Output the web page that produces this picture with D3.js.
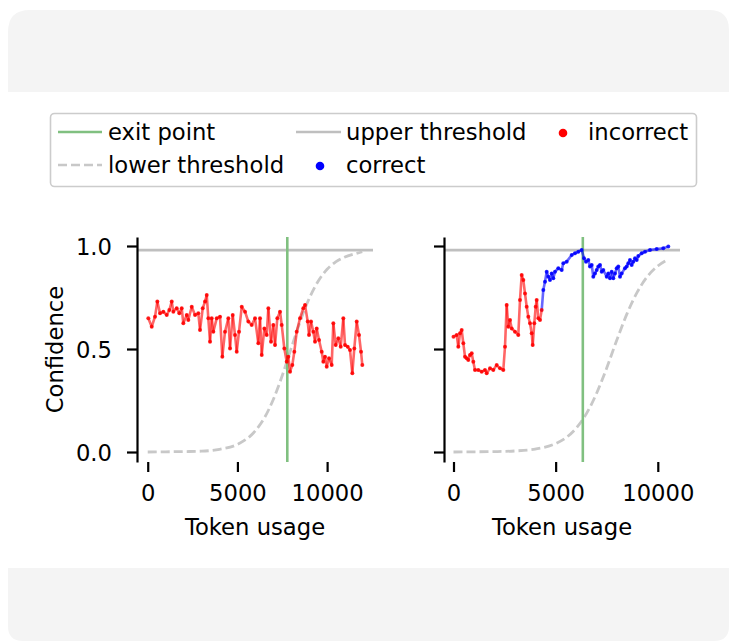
<!DOCTYPE html>
<html><head><meta charset="utf-8">
<script src="https://cdn.jsdelivr.net/npm/d3@7"></script>
<style>body{margin:0;background:#fff}svg{display:block}text{font-family:"DejaVu Sans",sans-serif}</style>
</head><body><svg id="c" width="731" height="641"></svg>
<script>
// ---- data ----
const leftTokens = [33,223,407,535,686,870,1059,1204,1338,1427,1616,1761,1895,1984,2174,2263,2453,2637,2821,2915,3066,3194,3289,3378,3473,3567,3657,3846,4030,4158,4309,4493,4588,4738,4866,4961,5089,5240,5424,5608,5797,5981,6165,6260,6355,6500,6633,6723,6873,7001,7096,7224,7375,7469,7614,7748,7837,7932,8060,8172,8305,8489,8673,8768,8919,8991,9103,9231,9326,9420,9549,9699,9788,9883,9978,10106,10256,10346,10479,10624,10758,10903,10998,11148,11276,11405,11516,11650,11778,11890,11962];
const leftConf = [0.649,0.608,0.657,0.730,0.673,0.681,0.665,0.689,0.730,0.681,0.698,0.673,0.698,0.625,0.665,0.641,0.705,0.665,0.673,0.592,0.698,0.730,0.762,0.649,0.535,0.649,0.584,0.649,0.657,0.463,0.584,0.649,0.503,0.665,0.568,0.487,0.584,0.705,0.681,0.633,0.617,0.649,0.528,0.649,0.471,0.600,0.568,0.698,0.535,0.617,0.519,0.649,0.681,0.617,0.503,0.438,0.463,0.390,0.422,0.487,0.584,0.649,0.698,0.714,0.633,0.568,0.633,0.584,0.535,0.600,0.544,0.487,0.438,0.463,0.414,0.455,0.422,0.625,0.519,0.552,0.511,0.649,0.519,0.511,0.495,0.382,0.503,0.633,0.568,0.487,0.422];

const rightTokens = [0,157,235,318,401,480,563,646,724,808,891,969,1052,1214,1380,1542,1625,1787,1948,2115,2276,2438,2521,2604,2682,2766,2849,3010,3172,3255,3338,3417,3500,3583,3661,3745,3828,3877,3955,4023,4072,4151,4234,4317,
  4395,4479,4562,4640,4723,4807,4885,4968,5130,5296,5374,5541,5786,5947,6109,6275,6388,6486,6598,6681,6765,6843,6926,7009,7088,7171,7254,7332,7499,7577,7660,7744,7822,7905,7988,8067,8150,8233,8394,8478,8556,8639,8722,8801,8884,8967,9046,9212,9374,9618,9946,10269,10514];
const rightConf = [0.560,0.568,0.511,0.576,0.592,0.528,0.463,0.455,0.447,0.471,0.479,0.438,0.398,0.398,0.390,0.398,0.382,0.406,0.398,0.422,0.406,0.398,0.511,0.714,0.608,0.641,0.600,0.584,0.568,0.738,0.859,0.835,0.770,0.705,0.657,0.625,0.576,0.519,0.625,0.705,0.738,0.649,0.641,0.689,
  0.786,0.827,0.875,0.851,0.835,0.867,0.843,0.875,0.892,0.883,0.916,0.924,0.956,0.965,0.972,0.981,0.940,0.924,0.932,0.900,0.908,0.851,0.867,0.883,0.900,0.908,0.875,0.883,0.851,0.867,0.843,0.875,0.843,0.867,0.892,0.900,0.851,0.867,0.892,0.900,0.916,0.932,0.908,0.924,0.940,0.932,0.951,0.965,0.972,0.981,0.985,0.989,0.997];
const rightIncorrectCount = 44; // first 44 steps are incorrect, rest correct

const leftLowerTokens = [0,1000,2000,3000,4000,5000,6000,6500,7000,7500,8000,8500,9000,9500,10000,10500,11000,11500,11960];
const leftLowerConf = [0.000,0.001,0.002,0.004,0.013,0.037,0.103,0.165,0.255,0.371,0.504,0.634,0.745,0.829,0.887,0.924,0.947,0.961,0.972];
const rightLowerTokens = [0,1000,2000,3000,4000,5000,5500,6000,6500,7000,7500,8000,8500,9000,9500,10000,10500];
const rightLowerConf = [0.000,0.001,0.002,0.005,0.014,0.041,0.069,0.115,0.185,0.284,0.408,0.545,0.673,0.777,0.853,0.903,0.935];

const exitTokens = [7780, 6330];
const upperThreshold = 0.98;
const xTickValues = [0, 5000, 10000];
const yTickValues = [0.0, 0.5, 1.0];
const legendLabels = ["exit point", "upper threshold", "incorrect", "lower threshold", "correct"];
const xLabel = "Token usage", yLabel = "Confidence";

// ---- drawing ----
const svg = d3.select("#c");
const FONT = 22.7;
const C = {red:"#ff0000", blue:"#0000ff", green:"#80c080", upper:"#bfbfbf", lower:"#c8c8c8", card:"#f4f4f4"};

// background cards
svg.append("path").attr("fill", C.card)
  .attr("d", "M8,92 L8,32 Q8,10 30,10 L709,10 Q729,10 729,30 L729,92 Z");
svg.append("path").attr("fill", C.card)
  .attr("d", "M8,568 L729,568 L729,626 Q729,641 714,641 L23,641 Q8,641 8,626 Z");

const y = d3.scaleLinear().domain([-0.0485, 1.0437]).range([462, 237]);
const panels = [
  {x: d3.scaleLinear().domain([-598, 12558]).range([137, 373]), tokens:leftTokens, conf:leftConf, incorrect:leftTokens.length,
   lowT:leftLowerTokens, lowC:leftLowerConf, exit:exitTokens[0], ylabels:true},
  {x: d3.scaleLinear().domain([-465, 11087]).range([444, 680]), tokens:rightTokens, conf:rightConf, incorrect:rightIncorrectCount,
   lowT:rightLowerTokens, lowC:rightLowerConf, exit:exitTokens[1], ylabels:false}
];

panels.forEach(p => {
  const g = svg.append("g");
  const [x0, x1] = p.x.range();
  g.append("line").attr("x1", x0).attr("x2", x1).attr("y1", y(upperThreshold)).attr("y2", y(upperThreshold))
    .attr("stroke", C.upper).attr("stroke-width", 2.6);
  const low = p.lowT.map((t,i)=>[t,p.lowC[i]]);
  g.append("path").datum(low)
    .attr("d", d3.line().x(d=>p.x(d[0])).y(d=>y(d[1])).curve(d3.curveMonotoneX))
    .attr("fill","none").attr("stroke", C.lower).attr("stroke-width", 2.8).attr("stroke-dasharray","9,4");
  g.append("line").attr("x1", p.x(p.exit)).attr("x2", p.x(p.exit)).attr("y1", 237).attr("y2", 462)
    .attr("stroke", C.green).attr("stroke-width", 2.6);
  const pts = p.tokens.map((t,i)=>({t, c:p.conf[i], ok: i >= p.incorrect}));
  for (let i = 0; i < pts.length - 1; i++) {
    g.append("line").attr("x1", p.x(pts[i].t)).attr("y1", y(pts[i].c))
      .attr("x2", p.x(pts[i+1].t)).attr("y2", y(pts[i+1].c))
      .attr("stroke", pts[i+1].ok ? C.blue : C.red).attr("stroke-width", 2.6).attr("stroke-opacity", 0.6)
      .attr("stroke-linecap","round");
  }
  g.selectAll("circle.pt").data(pts).join("circle").attr("class","pt")
    .attr("cx", d=>p.x(d.t)).attr("cy", d=>y(d.c)).attr("r", 2)
    .attr("fill", d=>d.ok ? C.blue : C.red).attr("fill-opacity", 0.8);

  const ya = svg.append("g").attr("transform", `translate(${x0},0)`)
    .call(d3.axisLeft(y).tickValues(yTickValues).tickFormat(d3.format(".1f")).tickSize(10).tickSizeOuter(0).tickPadding(15));
  ya.select(".domain").attr("stroke","#000").attr("stroke-width",2.2);
  ya.selectAll(".tick line").attr("stroke","#000").attr("stroke-width",2.2);
  ya.selectAll(".tick text").attr("font-size", FONT).attr("font-family","DejaVu Sans").attr("fill","#000").attr("dy","0.38em");
  if (!p.ylabels) ya.selectAll(".tick text").remove();
  const xa = svg.append("g").attr("transform", `translate(0,462)`)
    .call(d3.axisBottom(p.x).tickValues(xTickValues).tickFormat(d3.format("d")).tickSize(10).tickPadding(13));
  xa.select(".domain").remove();
  xa.selectAll(".tick line").attr("stroke","#000").attr("stroke-width",2.2);
  xa.selectAll(".tick text").attr("font-size", FONT).attr("font-family","DejaVu Sans").attr("fill","#000");
  svg.append("text").attr("x", (x0+x1)/2).attr("y", 535).attr("text-anchor","middle")
    .attr("font-size", FONT).attr("fill","#000").text(xLabel);
});

svg.append("text").attr("transform","translate(63,349.5) rotate(-90)").attr("text-anchor","middle")
  .attr("font-size", FONT).attr("fill","#000").text(yLabel);

// legend
const lg = svg.append("g");
lg.append("rect").attr("x",50.5).attr("y",113.5).attr("width",646).attr("height",73).attr("rx",4)
  .attr("fill","#fff").attr("stroke","#cccccc").attr("stroke-width",1.6);
const r1 = 132, r2 = 165;
lg.append("line").attr("x1",58).attr("x2",102).attr("y1",r1).attr("y2",r1).attr("stroke",C.green).attr("stroke-width",2.6);
lg.append("line").attr("x1",296).attr("x2",341).attr("y1",r1).attr("y2",r1).attr("stroke",C.upper).attr("stroke-width",2.6);
lg.append("circle").attr("cx",563).attr("cy",r1+1).attr("r",4.3).attr("fill",C.red);
lg.append("line").attr("x1",58).attr("x2",102).attr("y1",r2).attr("y2",r2).attr("stroke",C.lower).attr("stroke-width",2.6).attr("stroke-dasharray","9,4");
lg.append("circle").attr("cx",320).attr("cy",r2+1).attr("r",4.3).attr("fill",C.blue);
const lt = [[108,140,legendLabels[0]],[346,140,legendLabels[1]],[588,140,legendLabels[2]],[108,173,legendLabels[3]],[346,173,legendLabels[4]]];
lt.forEach(([xx,yy,t]) => lg.append("text").attr("x",xx).attr("y",yy).attr("font-size",FONT).attr("fill","#000").text(t));
</script></body></html>
